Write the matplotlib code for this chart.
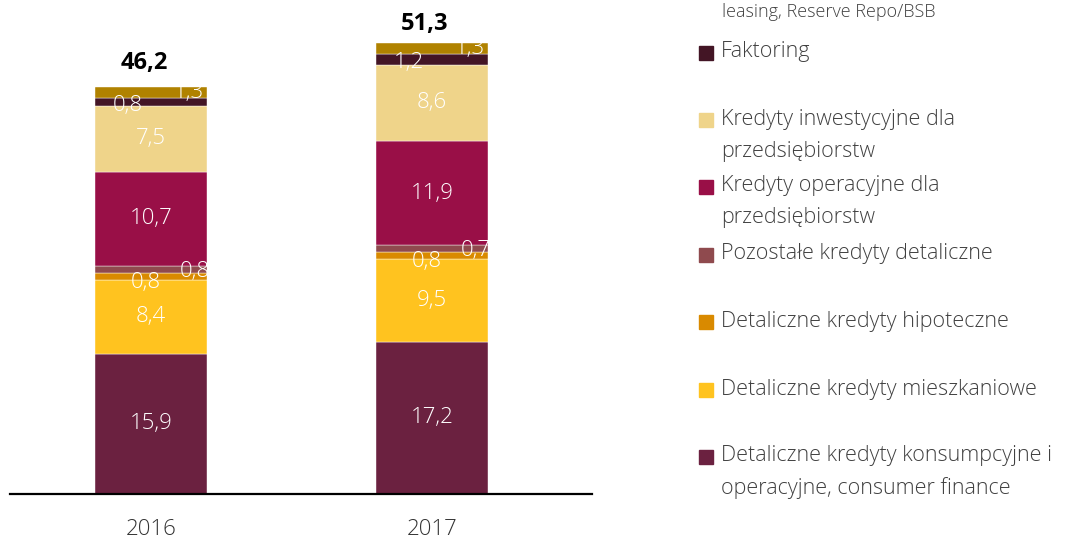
import matplotlib
matplotlib.use("Agg")
import matplotlib.pyplot as plt
from matplotlib.patches import Rectangle
import numpy as np

years = ["2016", "2017"]
series_names = [
    "Detaliczne kredyty konsumpcyjne i\noperacyjne, consumer finance",
    "Detaliczne kredyty mieszkaniowe",
    "Detaliczne kredyty hipoteczne",
    "Pozostałe kredyty detaliczne",
    "Kredyty operacyjne dla\nprzedsiębiorstw",
    "Kredyty inwestycyjne dla\nprzedsiębiorstw",
    "Faktoring",
    "leasing, Reserve Repo/BSB",
]
consumer = [15.9, 17.2]
mortgage_housing = [8.4, 9.5]
mortgage = [0.8, 0.8]
other_retail = [0.8, 0.7]
corp_operating = [10.7, 11.9]
corp_invest = [7.5, 8.6]
factoring = [0.8, 1.2]
leasing_other = [1.3, 1.3]
totals = [46.2, 51.3]

series = [consumer, mortgage_housing, mortgage, other_retail,
          corp_operating, corp_invest, factoring, leasing_other]
colors = ["#6B2140", "#FFC31F", "#D98A00", "#8F4A4E",
          "#990F47", "#EFD48A", "#431525", "#B08200"]
# label offsets (pixels) for thin segments: (dx, dy) ; dy positive = down
label_offsets = [(0, 0), (0, 0), (-5, 6), (44, 2), (0, 0), (0, 0), (-23, 3), (38, 0)]

W, H = 1069, 540
fig = plt.figure(figsize=(W / 100, H / 100), dpi=100)
base_y = 493.6
ax = fig.add_axes([10 / W, 1 - base_y / H, (592 - 10) / W, base_y / H])
px_per_unit = 8.8
ax.set_ylim(0, base_y / px_per_unit)
xpos = np.arange(len(years))
ax.set_xlim(-141 / 281, 1 + 160 / 281)
bw = 112 / 281

fontfam = ["Open Sans", "DejaVu Sans"]
PT = 0.72
bottom = np.zeros(len(years))
for vals, col, (dx, dy) in zip(series, colors, label_offsets):
    vals = np.array(vals)
    ax.bar(xpos, vals, bw, bottom=bottom, color=col, edgecolor="#ffffff",
           linewidth=0.3)
    for i, v in enumerate(vals):
        ax.annotate(f"{v:.1f}".replace(".", ","),
                    xy=(xpos[i], bottom[i] + v / 2), xytext=(dx * PT, -dy * PT),
                    textcoords="offset points", ha="center", va="center",
                    color="white", fontsize=16, fontweight="light", family=fontfam)
    bottom += vals

total_dy = [24, 19]
for i, t in enumerate(totals):
    ax.annotate(f"{t:.1f}".replace(".", ","), xy=(xpos[i], bottom[i]),
                xytext=(-7 * PT, total_dy[i] * PT), textcoords="offset points",
                ha="center", va="center", fontsize=17, fontweight="bold",
                color="black", family=fontfam)

for s in ["top", "right", "left"]:
    ax.spines[s].set_visible(False)
ax.spines["bottom"].set_linewidth(1.6)
ax.spines["bottom"].set_color("black")
ax.set_yticks([])
ax.set_xticks(xpos)
ax.set_xticklabels(years, fontsize=16, color="#333333", family=fontfam,
                   fontweight="light")
ax.tick_params(axis="x", length=0, pad=18)

# manual legend
legend_items = [
    (6, ["Faktoring"], 53),
    (5, ["Kredyty inwestycyjne dla", "przedsiębiorstw"], 120),
    (4, ["Kredyty operacyjne dla", "przedsiębiorstw"], 187),
    (3, ["Pozostałe kredyty detaliczne"], 255),
    (2, ["Detaliczne kredyty hipoteczne"], 322),
    (1, ["Detaliczne kredyty mieszkaniowe"], 390),
    (0, ["Detaliczne kredyty konsumpcyjne i", "operacyjne, consumer finance"], 457),
]
line_gap = 32
fig.text(722 / W, 1 - 12 / H, series_names[7], fontsize=13, color="#404040",
         family=fontfam, fontweight="light", ha="left", va="center")
for idx, lines, yc in legend_items:
    fig.patches.append(Rectangle((699 / W, 1 - (yc + 7) / H), 14 / W, 14 / H,
                                 transform=fig.transFigure, color=colors[idx]))
    for k, line in enumerate(lines):
        fig.text(721 / W, 1 - (yc - 1 + k * line_gap) / H, line, fontsize=15.5,
                 color="#404040", family=fontfam, fontweight="light",
                 ha="left", va="center")

fig.savefig("out.png", dpi=100)
